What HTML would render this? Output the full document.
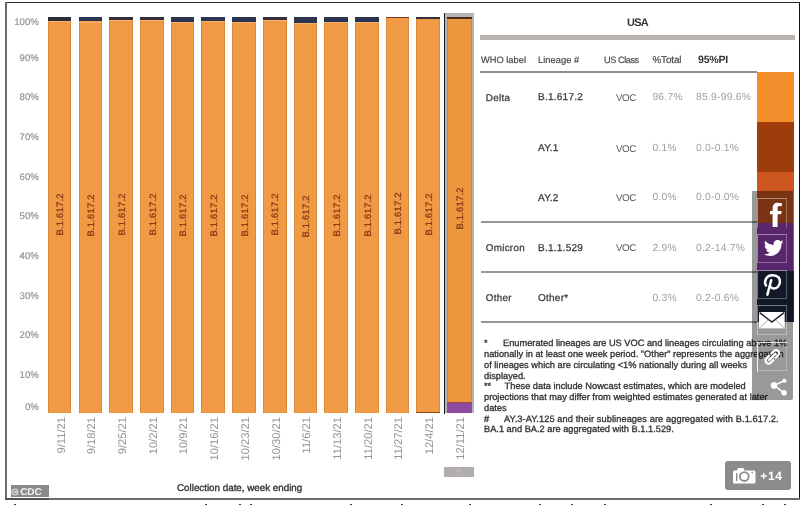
<!DOCTYPE html>
<html><head><meta charset="utf-8"><style>
html,body{margin:0;padding:0;}
body{width:800px;height:505px;overflow:hidden;background:#fff;position:relative;font-family:"Liberation Sans", sans-serif;text-rendering:geometricPrecision;}
.a{position:absolute;}
.t{position:absolute;white-space:nowrap;line-height:1;}
.v{position:absolute;white-space:nowrap;writing-mode:vertical-rl;transform:rotate(180deg);line-height:1;}
#wrap{position:absolute;left:0;top:0;width:800px;height:505px;overflow:hidden;filter:blur(0.3px);}
</style></head><body><div id="wrap">

<div class="a" style="left:5px;top:2px;width:794px;height:1px;background:#2a2a2a"></div>
<div class="a" style="left:5px;top:2px;width:2px;height:497px;background:#6a6a6a"></div>
<div class="a" style="left:798.6px;top:2px;width:1.4px;height:498px;background:#111"></div>
<div class="a" style="left:5px;top:497.8px;width:795px;height:1.8px;background:#6e6e6e"></div>
<div class="a" style="left:5px;top:497.8px;width:44px;height:1.8px;background:#505050"></div>
<div class="t" style="right:761.2px;top:17.7px;font-size:9.6px;color:#8e8e8e;-webkit-text-stroke:0.15px #8e8e8e;">100%</div>
<div class="t" style="right:761.2px;top:53.9px;font-size:9.6px;color:#8e8e8e;-webkit-text-stroke:0.15px #8e8e8e;">90%</div>
<div class="t" style="right:761.2px;top:93.4px;font-size:9.6px;color:#8e8e8e;-webkit-text-stroke:0.15px #8e8e8e;">80%</div>
<div class="t" style="right:761.2px;top:133.1px;font-size:9.6px;color:#8e8e8e;-webkit-text-stroke:0.15px #8e8e8e;">70%</div>
<div class="t" style="right:761.2px;top:172.8px;font-size:9.6px;color:#8e8e8e;-webkit-text-stroke:0.15px #8e8e8e;">60%</div>
<div class="t" style="right:761.2px;top:212.4px;font-size:9.6px;color:#8e8e8e;-webkit-text-stroke:0.15px #8e8e8e;">50%</div>
<div class="t" style="right:761.2px;top:252.4px;font-size:9.6px;color:#8e8e8e;-webkit-text-stroke:0.15px #8e8e8e;">40%</div>
<div class="t" style="right:761.2px;top:291.7px;font-size:9.6px;color:#8e8e8e;-webkit-text-stroke:0.15px #8e8e8e;">30%</div>
<div class="t" style="right:761.2px;top:331.4px;font-size:9.6px;color:#8e8e8e;-webkit-text-stroke:0.15px #8e8e8e;">20%</div>
<div class="t" style="right:761.2px;top:371.1px;font-size:9.6px;color:#8e8e8e;-webkit-text-stroke:0.15px #8e8e8e;">10%</div>
<div class="t" style="right:761.2px;top:403.4px;font-size:9.6px;color:#8e8e8e;-webkit-text-stroke:0.15px #8e8e8e;">0%</div>
<div class="a" style="left:47.80px;top:17.3px;width:23.7px;height:395.7px;background:#f09a45;box-shadow:inset 1px 0 0 rgba(160,90,30,0.28),inset -1px 0 0 rgba(160,90,30,0.28)"></div>
<div class="a" style="left:47.80px;top:17.3px;width:23.7px;height:3.5px;background:#2c2c36"></div>
<div class="a" style="left:47.80px;top:20.8px;width:23.7px;height:1px;background:rgba(255,235,200,0.3)"></div>
<div class="v" style="left:55.45px;top:194.4px;width:10px;height:41.6px;font-size:9.4px;letter-spacing:0.25px;color:#8a3c14;-webkit-text-stroke:0.3px #8a3c14;text-align:center">B.1.617.2</div>
<div class="v" style="left:56.55px;top:417.4px;width:12px;font-size:11.2px;color:#939393;">9/11/21</div>
<div class="a" style="left:78.52px;top:17.3px;width:23.7px;height:395.7px;background:#f09a45;box-shadow:inset 1px 0 0 rgba(160,90,30,0.28),inset -1px 0 0 rgba(160,90,30,0.28)"></div>
<div class="a" style="left:78.52px;top:17.3px;width:23.7px;height:4.2px;background:#2b3550"></div>
<div class="a" style="left:78.52px;top:21.5px;width:23.7px;height:1px;background:rgba(255,235,200,0.3)"></div>
<div class="v" style="left:86.17px;top:194.8px;width:10px;height:41.6px;font-size:9.4px;letter-spacing:0.25px;color:#8a3c14;-webkit-text-stroke:0.3px #8a3c14;text-align:center">B.1.617.2</div>
<div class="v" style="left:87.27px;top:417.4px;width:12px;font-size:11.2px;color:#939393;">9/18/21</div>
<div class="a" style="left:109.24px;top:17.3px;width:23.7px;height:395.7px;background:#f09a45;box-shadow:inset 1px 0 0 rgba(160,90,30,0.28),inset -1px 0 0 rgba(160,90,30,0.28)"></div>
<div class="a" style="left:109.24px;top:17.3px;width:23.7px;height:2.8px;background:#33303a"></div>
<div class="a" style="left:109.24px;top:20.1px;width:23.7px;height:1px;background:rgba(255,235,200,0.3)"></div>
<div class="v" style="left:116.89px;top:194.1px;width:10px;height:41.6px;font-size:9.4px;letter-spacing:0.25px;color:#8a3c14;-webkit-text-stroke:0.3px #8a3c14;text-align:center">B.1.617.2</div>
<div class="v" style="left:117.99px;top:417.4px;width:12px;font-size:11.2px;color:#939393;">9/25/21</div>
<div class="a" style="left:139.96px;top:17.3px;width:23.7px;height:395.7px;background:#f09a45;box-shadow:inset 1px 0 0 rgba(160,90,30,0.28),inset -1px 0 0 rgba(160,90,30,0.28)"></div>
<div class="a" style="left:139.96px;top:17.3px;width:23.7px;height:3.0px;background:#33303a"></div>
<div class="a" style="left:139.96px;top:20.3px;width:23.7px;height:1px;background:rgba(255,235,200,0.3)"></div>
<div class="v" style="left:147.61px;top:194.2px;width:10px;height:41.6px;font-size:9.4px;letter-spacing:0.25px;color:#8a3c14;-webkit-text-stroke:0.3px #8a3c14;text-align:center">B.1.617.2</div>
<div class="v" style="left:148.71px;top:417.4px;width:12px;font-size:11.2px;color:#939393;">10/2/21</div>
<div class="a" style="left:170.68px;top:17.3px;width:23.7px;height:395.7px;background:#f09a45;box-shadow:inset 1px 0 0 rgba(160,90,30,0.28),inset -1px 0 0 rgba(160,90,30,0.28)"></div>
<div class="a" style="left:170.68px;top:17.3px;width:23.7px;height:4.8px;background:#2b3550"></div>
<div class="a" style="left:170.68px;top:22.1px;width:23.7px;height:1px;background:rgba(255,235,200,0.3)"></div>
<div class="v" style="left:178.33px;top:195.1px;width:10px;height:41.6px;font-size:9.4px;letter-spacing:0.25px;color:#8a3c14;-webkit-text-stroke:0.3px #8a3c14;text-align:center">B.1.617.2</div>
<div class="v" style="left:179.43px;top:417.4px;width:12px;font-size:11.2px;color:#939393;">10/9/21</div>
<div class="a" style="left:201.40px;top:17.3px;width:23.7px;height:395.7px;background:#f09a45;box-shadow:inset 1px 0 0 rgba(160,90,30,0.28),inset -1px 0 0 rgba(160,90,30,0.28)"></div>
<div class="a" style="left:201.40px;top:17.3px;width:23.7px;height:3.8px;background:#2b3550"></div>
<div class="a" style="left:201.40px;top:21.1px;width:23.7px;height:1px;background:rgba(255,235,200,0.3)"></div>
<div class="v" style="left:209.05px;top:194.6px;width:10px;height:41.6px;font-size:9.4px;letter-spacing:0.25px;color:#8a3c14;-webkit-text-stroke:0.3px #8a3c14;text-align:center">B.1.617.2</div>
<div class="v" style="left:210.15px;top:417.4px;width:12px;font-size:11.2px;color:#939393;">10/16/21</div>
<div class="a" style="left:232.12px;top:17.3px;width:23.7px;height:395.7px;background:#f09a45;box-shadow:inset 1px 0 0 rgba(160,90,30,0.28),inset -1px 0 0 rgba(160,90,30,0.28)"></div>
<div class="a" style="left:232.12px;top:17.3px;width:23.7px;height:4.4px;background:#2b3550"></div>
<div class="a" style="left:232.12px;top:21.700000000000003px;width:23.7px;height:1px;background:rgba(255,235,200,0.3)"></div>
<div class="v" style="left:239.77px;top:194.8px;width:10px;height:41.6px;font-size:9.4px;letter-spacing:0.25px;color:#8a3c14;-webkit-text-stroke:0.3px #8a3c14;text-align:center">B.1.617.2</div>
<div class="v" style="left:240.87px;top:417.4px;width:12px;font-size:11.2px;color:#939393;">10/23/21</div>
<div class="a" style="left:262.84px;top:17.3px;width:23.7px;height:395.7px;background:#f09a45;box-shadow:inset 1px 0 0 rgba(160,90,30,0.28),inset -1px 0 0 rgba(160,90,30,0.28)"></div>
<div class="a" style="left:262.84px;top:17.3px;width:23.7px;height:3.0px;background:#33303a"></div>
<div class="a" style="left:262.84px;top:20.3px;width:23.7px;height:1px;background:rgba(255,235,200,0.3)"></div>
<div class="v" style="left:270.49px;top:194.2px;width:10px;height:41.6px;font-size:9.4px;letter-spacing:0.25px;color:#8a3c14;-webkit-text-stroke:0.3px #8a3c14;text-align:center">B.1.617.2</div>
<div class="v" style="left:271.59px;top:417.4px;width:12px;font-size:11.2px;color:#939393;">10/30/21</div>
<div class="a" style="left:293.56px;top:17.3px;width:23.7px;height:395.7px;background:#f09a45;box-shadow:inset 1px 0 0 rgba(160,90,30,0.28),inset -1px 0 0 rgba(160,90,30,0.28)"></div>
<div class="a" style="left:293.56px;top:17.3px;width:23.7px;height:6.0px;background:#2b3550"></div>
<div class="a" style="left:293.56px;top:23.3px;width:23.7px;height:1px;background:rgba(255,235,200,0.3)"></div>
<div class="v" style="left:301.21px;top:195.7px;width:10px;height:41.6px;font-size:9.4px;letter-spacing:0.25px;color:#8a3c14;-webkit-text-stroke:0.3px #8a3c14;text-align:center">B.1.617.2</div>
<div class="v" style="left:302.31px;top:417.4px;width:12px;font-size:11.2px;color:#939393;">11/6/21</div>
<div class="a" style="left:324.28px;top:17.3px;width:23.7px;height:395.7px;background:#f09a45;box-shadow:inset 1px 0 0 rgba(160,90,30,0.28),inset -1px 0 0 rgba(160,90,30,0.28)"></div>
<div class="a" style="left:324.28px;top:17.3px;width:23.7px;height:4.8px;background:#2b3550"></div>
<div class="a" style="left:324.28px;top:22.1px;width:23.7px;height:1px;background:rgba(255,235,200,0.3)"></div>
<div class="v" style="left:331.93px;top:195.1px;width:10px;height:41.6px;font-size:9.4px;letter-spacing:0.25px;color:#8a3c14;-webkit-text-stroke:0.3px #8a3c14;text-align:center">B.1.617.2</div>
<div class="v" style="left:333.03px;top:417.4px;width:12px;font-size:11.2px;color:#939393;">11/13/21</div>
<div class="a" style="left:355.00px;top:17.3px;width:23.7px;height:395.7px;background:#f09a45;box-shadow:inset 1px 0 0 rgba(160,90,30,0.28),inset -1px 0 0 rgba(160,90,30,0.28)"></div>
<div class="a" style="left:355.00px;top:17.3px;width:23.7px;height:4.8px;background:#2b3550"></div>
<div class="a" style="left:355.00px;top:22.1px;width:23.7px;height:1px;background:rgba(255,235,200,0.3)"></div>
<div class="v" style="left:362.65px;top:195.1px;width:10px;height:41.6px;font-size:9.4px;letter-spacing:0.25px;color:#8a3c14;-webkit-text-stroke:0.3px #8a3c14;text-align:center">B.1.617.2</div>
<div class="v" style="left:363.75px;top:417.4px;width:12px;font-size:11.2px;color:#939393;">11/20/21</div>
<div class="a" style="left:385.72px;top:17.3px;width:23.7px;height:395.7px;background:#f09a45;box-shadow:inset 1px 0 0 rgba(160,90,30,0.28),inset -1px 0 0 rgba(160,90,30,0.28)"></div>
<div class="a" style="left:385.72px;top:17.3px;width:23.7px;height:1.2px;background:#7a3a20"></div>
<div class="v" style="left:393.37px;top:193.2px;width:10px;height:41.6px;font-size:9.4px;letter-spacing:0.25px;color:#8a3c14;-webkit-text-stroke:0.3px #8a3c14;text-align:center">B.1.617.2</div>
<div class="v" style="left:394.47px;top:417.4px;width:12px;font-size:11.2px;color:#939393;">11/27/21</div>
<div class="a" style="left:416.44px;top:17.3px;width:23.7px;height:395.7px;background:#f09a45;box-shadow:inset 1px 0 0 rgba(160,90,30,0.28),inset -1px 0 0 rgba(160,90,30,0.28)"></div>
<div class="a" style="left:416.44px;top:17.3px;width:23.7px;height:2.0px;background:#33303a"></div>
<div class="v" style="left:424.09px;top:193.7px;width:10px;height:41.6px;font-size:9.4px;letter-spacing:0.25px;color:#8a3c14;-webkit-text-stroke:0.3px #8a3c14;text-align:center">B.1.617.2</div>
<div class="v" style="left:425.19px;top:417.4px;width:12px;font-size:11.2px;color:#939393;">12/4/21</div>
<div class="a" style="left:447.40px;top:17.3px;width:24.4px;height:395.7px;background:#ec963e;box-shadow:inset 1px 0 0 rgba(160,90,30,0.28),inset -1px 0 0 rgba(160,90,30,0.28)"></div>
<div class="a" style="left:447.40px;top:17.3px;width:24.4px;height:2.2px;background:#4a2a1a"></div>
<div class="v" style="left:455.05px;top:188.1px;width:10px;height:41.6px;font-size:9.4px;letter-spacing:0.25px;color:#8a3c14;-webkit-text-stroke:0.3px #8a3c14;text-align:center">B.1.617.2</div>
<div class="v" style="left:456.15px;top:417.4px;width:12px;font-size:11.2px;color:#939393;">12/11/21</div>
<div class="a" style="left:416.44px;top:411.7px;width:23.7px;height:1.3px;background:#9a4a1a"></div>
<div class="a" style="left:445.2px;top:13.2px;width:29.1px;height:400.3px;border:solid #b4b4b4;border-width:4.1px 2.5px 0 2.2px;box-sizing:border-box;"></div>
<div class="a" style="left:444.1px;top:13.2px;width:1.2px;height:400.5px;background:#1a1a1a"></div>
<div class="a" style="left:447.40px;top:401.6px;width:24.4px;height:11.4px;background:#8c49a0"></div>
<div class="a" style="left:447.40px;top:401.6px;width:24.4px;height:1.4px;background:#a8453a"></div>
<div class="a" style="left:444.3px;top:466.5px;width:29.7px;height:10.5px;background:#b2aeae;"></div>
<svg class="a" style="left:455px;top:468px" width="8" height="5" viewBox="0 0 8 5"><path d="M1.5 3.8 L4 1.6 L6.5 3.8" fill="none" stroke="#cfcaca" stroke-width="1"/></svg>
<div class="t" style="left:177px;top:484.2px;font-size:9.8px;color:#333;-webkit-text-stroke:0.35px #333;">Collection date, week ending</div>
<div class="a" style="left:10.5px;top:485px;width:38.5px;height:12px;background:#8a8a8a;"></div>
<svg class="a" style="left:10.6px;top:487.6px" width="8" height="8" viewBox="0 0 8 8"><circle cx="4" cy="4" r="3.6" fill="#cfcfcf"/><path d="M5.4 2.9 A1.7 1.7 0 1 0 5.4 5.1" fill="none" stroke="#8f8f8f" stroke-width="1"/></svg>
<div class="t" style="left:20.2px;top:487.6px;font-size:10px;font-weight:bold;color:#f2f2f2;letter-spacing:-0.1px">CDC</div>
<div class="t" style="left:627px;top:18.2px;font-size:11px;font-weight:bold;color:#333;letter-spacing:-0.8px">USA</div>
<div class="a" style="left:480px;top:35.2px;width:314.5px;height:4.8px;background:#b9b4b0;"></div>
<div class="t" style="left:481px;top:55.73px;font-size:9.3px;color:#4a4a4a;font-weight:normal;letter-spacing:0px;-webkit-text-stroke:0.2px currentColor;">WHO label</div>
<div class="t" style="left:538px;top:55.73px;font-size:9.3px;color:#4a4a4a;font-weight:normal;letter-spacing:0.05px;-webkit-text-stroke:0.2px currentColor;">Lineage #</div>
<div class="t" style="left:604px;top:55.81px;font-size:9.2px;color:#4a4a4a;font-weight:normal;letter-spacing:-0.45px;-webkit-text-stroke:0.2px currentColor;">US Class</div>
<div class="t" style="left:652.4px;top:56.22px;font-size:9.9px;color:#4a4a4a;font-weight:normal;letter-spacing:-0.1px;-webkit-text-stroke:0.2px currentColor;">%Total</div>
<div class="t" style="left:698px;top:54.63px;font-size:10.6px;color:#333;font-weight:bold;letter-spacing:-0.25px;">95%PI</div>
<div class="a" style="left:480px;top:71.2px;width:277px;height:1.8px;background:#8e8e8e;"></div>
<div class="t" style="left:485.8px;top:93.50px;font-size:9.8px;color:#3c3c3c;font-weight:normal;letter-spacing:0.3px;-webkit-text-stroke:0.28px currentColor;">Delta</div>
<div class="t" style="left:538px;top:93.33px;font-size:10.0px;color:#3c3c3c;font-weight:normal;letter-spacing:0.25px;-webkit-text-stroke:0.28px currentColor;">B.1.617.2</div>
<div class="t" style="left:616px;top:93.50px;font-size:9.8px;color:#5a5a5a;font-weight:normal;letter-spacing:-0.5px;">VOC</div>
<div class="t" style="left:652.4px;top:93.08px;font-size:10.3px;color:#a0a0a0;font-weight:normal;letter-spacing:0.25px;">96.7%</div>
<div class="t" style="left:696px;top:93.08px;font-size:10.3px;color:#a0a0a0;font-weight:normal;letter-spacing:0.25px;">85.9-99.6%</div>
<div class="t" style="left:538px;top:144.44px;font-size:10.0px;color:#3c3c3c;font-weight:normal;letter-spacing:0.25px;-webkit-text-stroke:0.28px currentColor;">AY.1</div>
<div class="t" style="left:616px;top:144.60px;font-size:9.8px;color:#5a5a5a;font-weight:normal;letter-spacing:-0.5px;">VOC</div>
<div class="t" style="left:652.4px;top:144.18px;font-size:10.3px;color:#a0a0a0;font-weight:normal;letter-spacing:0.25px;">0.1%</div>
<div class="t" style="left:696px;top:144.18px;font-size:10.3px;color:#a0a0a0;font-weight:normal;letter-spacing:0.25px;">0.0-0.1%</div>
<div class="t" style="left:538px;top:193.53px;font-size:10.0px;color:#3c3c3c;font-weight:normal;letter-spacing:0.25px;-webkit-text-stroke:0.28px currentColor;">AY.2</div>
<div class="t" style="left:616px;top:193.70px;font-size:9.8px;color:#5a5a5a;font-weight:normal;letter-spacing:-0.5px;">VOC</div>
<div class="t" style="left:652.4px;top:193.28px;font-size:10.3px;color:#a0a0a0;font-weight:normal;letter-spacing:0.25px;">0.0%</div>
<div class="t" style="left:696px;top:193.28px;font-size:10.3px;color:#a0a0a0;font-weight:normal;letter-spacing:0.25px;">0.0-0.0%</div>
<div class="t" style="left:485.8px;top:244.30px;font-size:9.8px;color:#3c3c3c;font-weight:normal;letter-spacing:0.3px;-webkit-text-stroke:0.28px currentColor;">Omicron</div>
<div class="t" style="left:538px;top:244.13px;font-size:10.0px;color:#3c3c3c;font-weight:normal;letter-spacing:0.25px;-webkit-text-stroke:0.28px currentColor;">B.1.1.529</div>
<div class="t" style="left:616px;top:244.30px;font-size:9.8px;color:#5a5a5a;font-weight:normal;letter-spacing:-0.5px;">VOC</div>
<div class="t" style="left:652.4px;top:243.88px;font-size:10.3px;color:#a0a0a0;font-weight:normal;letter-spacing:0.25px;">2.9%</div>
<div class="t" style="left:696px;top:243.88px;font-size:10.3px;color:#a0a0a0;font-weight:normal;letter-spacing:0.25px;">0.2-14.7%</div>
<div class="t" style="left:485.8px;top:294.20px;font-size:9.8px;color:#3c3c3c;font-weight:normal;letter-spacing:0.3px;-webkit-text-stroke:0.28px currentColor;">Other</div>
<div class="t" style="left:538px;top:294.04px;font-size:10.0px;color:#3c3c3c;font-weight:normal;letter-spacing:0.25px;-webkit-text-stroke:0.28px currentColor;">Other*</div>
<div class="t" style="left:652.4px;top:293.78px;font-size:10.3px;color:#a0a0a0;font-weight:normal;letter-spacing:0.25px;">0.3%</div>
<div class="t" style="left:696px;top:293.78px;font-size:10.3px;color:#a0a0a0;font-weight:normal;letter-spacing:0.25px;">0.2-0.6%</div>
<div class="a" style="left:481px;top:220.8px;width:276px;height:1.8px;background:#969696;"></div>
<div class="a" style="left:481px;top:270.8px;width:276px;height:1.8px;background:#969696;"></div>
<div class="a" style="left:481px;top:320.8px;width:276px;height:1.8px;background:#969696;"></div>
<div class="a" style="left:757px;top:72px;width:36.5px;height:50px;background:#f28e2b;"></div>
<div class="a" style="left:757px;top:122px;width:36.5px;height:50px;background:#9e3c0c;"></div>
<div class="a" style="left:757px;top:172px;width:36.5px;height:51px;background:#cc5620;"></div>
<div class="a" style="left:757px;top:223px;width:36.5px;height:48px;background:#9340b2;"></div>
<div class="a" style="left:757px;top:271px;width:36.5px;height:51px;background:#202943;"></div>
<div class="t" style="left:484px;top:339.26px;font-size:9.26px;color:#333;-webkit-text-stroke:0.32px #333;">*</div>
<div class="t" style="left:503.0px;top:339.26px;font-size:9.26px;color:#333;-webkit-text-stroke:0.32px #333;">Enumerated lineages are US VOC and lineages circulating above 1%</div>
<div class="t" style="left:484px;top:350.01px;font-size:9.26px;color:#333;-webkit-text-stroke:0.32px #333;">nationally in at least one week period. "Other" represents the aggregation</div>
<div class="t" style="left:484px;top:360.76px;font-size:9.26px;color:#333;-webkit-text-stroke:0.32px #333;">of lineages which are circulating &lt;1% nationally during all weeks</div>
<div class="t" style="left:484px;top:371.51px;font-size:9.26px;color:#333;-webkit-text-stroke:0.32px #333;">displayed.</div>
<div class="t" style="left:484px;top:382.26px;font-size:9.26px;color:#333;-webkit-text-stroke:0.32px #333;">**</div>
<div class="t" style="left:504.6px;top:382.26px;font-size:9.26px;color:#333;-webkit-text-stroke:0.32px #333;">These data include Nowcast estimates, which are modeled</div>
<div class="t" style="left:484px;top:393.01px;font-size:9.26px;color:#333;-webkit-text-stroke:0.32px #333;">projections that may differ from weighted estimates generated at later</div>
<div class="t" style="left:484px;top:403.76px;font-size:9.26px;color:#333;-webkit-text-stroke:0.32px #333;">dates</div>
<div class="t" style="left:484px;top:414.51px;font-size:9.26px;color:#333;-webkit-text-stroke:0.32px #333;">#</div>
<div class="t" style="left:504.0px;top:414.51px;font-size:9.26px;color:#333;-webkit-text-stroke:0.32px #333;letter-spacing:0.085px;">AY.3-AY.125 and their sublineages are aggregated with B.1.617.2.</div>
<div class="t" style="left:484px;top:425.26px;font-size:9.26px;color:#333;-webkit-text-stroke:0.32px #333;">BA.1 and BA.2 are aggregated with B.1.1.529.</div>
<div class="a" style="left:751.6px;top:191.2px;width:41.6px;height:209px;background:rgba(0,0,0,0.40);border-radius:0 0 2px 2px;"></div>
<div class="a" style="left:757.4px;top:198.2px;width:30px;height:29.5px;border:1px solid rgba(255,255,255,0.3);border-top-color:rgba(255,255,255,0.42);border-left-color:rgba(255,255,255,0.42);border-bottom-color:transparent;box-sizing:border-box;"></div>
<div class="a" style="left:757.4px;top:233.7px;width:30px;height:29.5px;border:1px solid rgba(255,255,255,0.3);border-top-color:rgba(255,255,255,0.42);border-left-color:rgba(255,255,255,0.42);box-sizing:border-box;"></div>
<div class="a" style="left:757.4px;top:269.6px;width:30px;height:29.5px;border:1px solid rgba(255,255,255,0.3);border-top-color:rgba(255,255,255,0.42);border-left-color:rgba(255,255,255,0.42);box-sizing:border-box;"></div>
<div class="a" style="left:757.4px;top:305.4px;width:30px;height:29.5px;border:1px solid rgba(255,255,255,0.3);border-top-color:rgba(255,255,255,0.42);border-left-color:rgba(255,255,255,0.42);box-sizing:border-box;"></div>
<div class="a" style="left:757.4px;top:341.6px;width:30px;height:29.5px;border:1px solid rgba(255,255,255,0.3);border-top-color:rgba(255,255,255,0.42);border-left-color:rgba(255,255,255,0.42);box-sizing:border-box;"></div>
<div class="a" style="left:757px;top:341.6px;width:1.2px;height:30.5px;background:rgba(255,255,255,0.8);"></div>
<div class="a" style="left:757px;top:341.6px;width:30.5px;height:1.2px;background:rgba(255,255,255,0.6);"></div>
<svg class="a" style="left:764px;top:200px" width="24" height="28" viewBox="0 0 24 28">
<path d="M8.6 27 V14.2 H6 V11 H8.6 V8.6 C8.6 4.8 10.4 2.8 14.2 2.8 C15.6 2.8 17 3 18 3.3 L17.6 6.4 C16.8 6.2 16 6.1 15.3 6.1 C13.6 6.1 13.6 7.2 13.6 8.6 V11 H17.6 L17.1 14.2 H13.6 V27 Z" fill="#fff"/></svg>
<svg class="a" style="left:764px;top:240px" width="20" height="16.7" viewBox="0 0 24 20">
<path d="M23.6 2.4c-.9.4-1.8.6-2.8.7 1-.6 1.8-1.5 2.1-2.7-.9.6-2 1-3.1 1.2C18.9.6 17.6 0 16.2 0c-2.7 0-4.8 2.2-4.8 4.8 0 .4 0 .8.1 1.1C7.5 5.7 3.9 3.8 1.5.9 1.1 1.6.8 2.4.8 3.3c0 1.7.9 3.2 2.2 4-.8 0-1.5-.2-2.2-.6v.1c0 2.3 1.7 4.3 3.9 4.7-.4.1-.8.2-1.300.2-.3 0-.6 0-.9-.1.6 1.9 2.4 3.3 4.5 3.4-1.7 1.3-3.7 2.1-6 2.1-.4 0-.8 0-1.2-.1 2.1 1.4 4.7 2.200 7.4 2.2 8.9 0 13.7-7.4 13.7-13.7v-.6c1-.7 1.8-1.6 2.5-2.5z" fill="#fff"/></svg>
<svg class="a" style="left:760px;top:270px" width="26" height="30" viewBox="0 0 26 30">
<g fill="none" stroke="#fff" stroke-width="2.5" stroke-linecap="round">
<path d="M6 15.4 C4.2 13 4.8 5.4 12.6 5.2 C18.2 5.1 20.4 8.6 19.9 12.4 C19.4 16.2 16.6 18.6 13.6 18.5 C12.2 18.4 11.2 17.8 10.8 17"/>
<path d="M11.2 10.2 L7.4 24.6"/></g></svg>
<svg class="a" style="left:759.4px;top:312.3px" width="25.7" height="16.4" viewBox="0 0 25.7 16.4">
<rect x="0" y="0" width="25.7" height="16.4" fill="#fff"/>
<path d="M0.6 0.6 L12.85 10 L25.1 0.6" fill="none" stroke="#1e2233" stroke-width="1.5"/>
<path d="M0.6 15.8 L9.5 7.8 M25.1 15.8 L16.2 7.8" fill="none" stroke="#9a9a9a" stroke-width="0.8"/></svg>
<svg class="a" style="left:758px;top:342px" width="30" height="30" viewBox="0 0 30 30">
<g fill="none" stroke="#fff" stroke-width="2.1" stroke-linecap="round" transform="translate(14.3 14.8) rotate(-45)">
<path d="M1.6 -3.1 L5.2 -3.1 A3.1 3.1 0 0 1 5.2 3.1 L1.6 3.1"/>
<path d="M-1.6 3.1 L-5.2 3.1 A3.1 3.1 0 0 1 -5.2 -3.1 L-1.6 -3.1"/>
<path d="M-4.4 0 L4.4 0"/>
</g></svg>
<svg class="a" style="left:768px;top:376px" width="21" height="21" viewBox="0 0 21 21">
<g fill="#fff" stroke="#fff"><circle cx="6" cy="9.4" r="2.9"/><circle cx="16.4" cy="4.8" r="1.7"/><circle cx="16.1" cy="16.8" r="2.4"/>
<path d="M6 9.4 L16.4 4.8 M6 9.4 L16.1 16.8" stroke-width="1.5" fill="none"/></g></svg>
<div class="a" style="left:725px;top:461px;width:65.8px;height:29px;background:#8c8c8c;border-radius:3px;"></div>
<svg class="a" style="left:733px;top:467px" width="23" height="17" viewBox="0 0 23 17">
<path d="M1.5 3.5 H4 L5 1 H10.5 L11.5 3.5 H21 a1.5 1.5 0 0 1 1.5 1.5 V15 a1.5 1.5 0 0 1 -1.5 1.5 H1.5 a1.5 1.5 0 0 1 -1.5 -1.5 V5 a1.5 1.5 0 0 1 1.5 -1.5 Z" fill="#fff"/>
<rect x="3" y="6" width="1.4" height="8" fill="#8c8c8c"/>
<circle cx="11.3" cy="9.6" r="4.4" fill="none" stroke="#8c8c8c" stroke-width="1.8"/>
<circle cx="19.2" cy="5.6" r="0.8" fill="#8c8c8c"/></svg>
<div class="t" style="left:760.3px;top:470.2px;font-size:12px;font-weight:bold;color:#fff;letter-spacing:0.6px">+14</div>
<div class="a" style="left:14px;top:503.8px;width:2px;height:1.2px;background:#3a3a3a;"></div>
<div class="a" style="left:205px;top:503.8px;width:2px;height:1.2px;background:#3a3a3a;"></div>
<div class="a" style="left:239px;top:503.8px;width:2px;height:1.2px;background:#3a3a3a;"></div>
<div class="a" style="left:249.6px;top:503.8px;width:2px;height:1.2px;background:#3a3a3a;"></div>
<div class="a" style="left:350px;top:503.8px;width:2px;height:1.2px;background:#3a3a3a;"></div>
<div class="a" style="left:401px;top:503.8px;width:2px;height:1.2px;background:#3a3a3a;"></div>
<div class="a" style="left:469px;top:503.8px;width:2px;height:1.2px;background:#3a3a3a;"></div>
<div class="a" style="left:539px;top:503.8px;width:2px;height:1.2px;background:#3a3a3a;"></div>
<div class="a" style="left:571px;top:503.8px;width:2px;height:1.2px;background:#3a3a3a;"></div>
<div class="a" style="left:604px;top:503.8px;width:2px;height:1.2px;background:#3a3a3a;"></div>
<div class="a" style="left:710px;top:503.8px;width:2px;height:1.2px;background:#3a3a3a;"></div>
<div class="a" style="left:762px;top:503.8px;width:2px;height:1.2px;background:#3a3a3a;"></div>
<div class="a" style="left:784px;top:503.8px;width:2px;height:1.2px;background:#3a3a3a;"></div>
</div></body></html>
